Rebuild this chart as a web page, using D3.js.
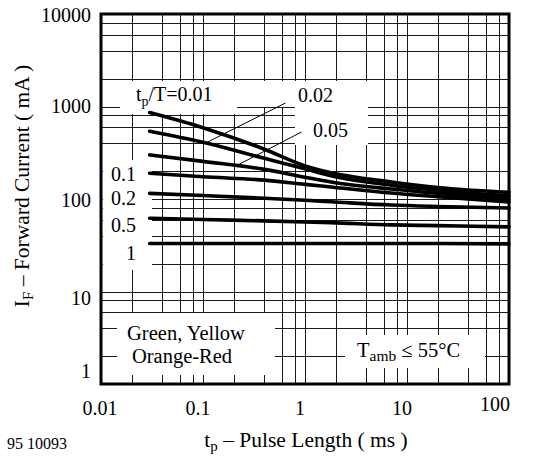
<!DOCTYPE html>
<html>
<head>
<meta charset="utf-8">
<script src="https://cdn.jsdelivr.net/npm/d3@7"></script>
<style>
  html, body { margin: 0; padding: 0; background: #fff; }
  svg { display: block; }
  text { font-family: "Liberation Serif", "Times New Roman", serif; fill: #000; }
</style>
</head>
<body>
<svg id="chart" width="536" height="458"></svg>
<script>
// ---- data ----
const pulseLengths = [0.03, 0.1, 0.4, 1, 1.8, 7, 20, 100];   // ms
const dutyLabels = ["0.01", "0.02", "0.05", "0.1", "0.2", "0.5", "1"];
const current001 = [860, 590, 345, 228, 192, 153, 133, 118];
const current002 = [540, 410, 275, 212, 178, 141, 124, 108];
const current005 = [300, 255, 209, 172, 153, 128, 115, 100];
const current01  = [190, 174, 160, 144, 135, 116, 106, 93];
const current02  = [115, 109, 102, 97, 93.5, 86, 83, 80];
const current05  = [62, 60, 58, 56.5, 55.5, 52.5, 51.5, 50];
const current1   = [33, 33, 33, 33, 33, 33, 33, 32.7];
const xTickValues = [0.01, 0.1, 1, 10, 100];
const xTickLabels = ["0.01", "0.1", "1", "10", "100"];
const yTickValues = [1, 10, 100, 1000, 10000];
const yTickLabels = ["1", "10", "100", "1000", "10000"];
const gridMultipliers = [1, 2, 4, 6, 8];

const series = [current001, current002, current005, current01, current02, current05, current1];

// ---- layout ----
const svg = d3.select("#chart");
const L = 101, R = 509, T = 14, B = 384;
const x = d3.scaleLog().domain([0.01, 100]).range([L, R]);
const y = d3.scaleLog().domain([1, 10000]).range([B, T]);

// grid
const xGrid = [];
[0.01, 0.1, 1, 10].forEach(d => gridMultipliers.forEach(m => xGrid.push(d * m)));
const yGrid = [];
[1, 10, 100, 1000].forEach(d => gridMultipliers.forEach(m => yGrid.push(d * m)));

const grid = svg.append("g").attr("stroke", "#1a1a1a").attr("stroke-width", 1).attr("shape-rendering", "crispEdges");
grid.selectAll("line.v").data(xGrid.slice(1)).join("line")
  .attr("x1", d => Math.round(x(d)) + 0.5).attr("x2", d => Math.round(x(d)) + 0.5)
  .attr("y1", T).attr("y2", B);
grid.selectAll("line.h").data(yGrid.slice(1)).join("line")
  .attr("y1", d => Math.round(y(d)) + 0.5).attr("y2", d => Math.round(y(d)) + 0.5)
  .attr("x1", L).attr("x2", R);

// white label boxes (erase grid behind annotations)
const boxes = [
  [120, 81, 117, 33],   // tp/T=0.01
  [263, 81, 105, 26],   // 0.02
  [295, 107, 73, 38],   // 0.05
  [103, 160, 49, 110],  // 0.1 .. 1
  [117, 313, 158, 62],  // Green, Yellow / Orange-Red
  [345, 335, 140, 33]   // Tamb
];
svg.append("g").selectAll("rect").data(boxes).join("rect")
  .attr("x", d => d[0]).attr("y", d => d[1]).attr("width", d => d[2]).attr("height", d => d[3])
  .attr("fill", "#fff");

// curves
const line = d3.line()
  .x((d, i) => x(pulseLengths[i]))
  .y(d => y(d))
  .curve(d3.curveMonotoneX);
svg.append("g").selectAll("path").data(series).join("path")
  .attr("d", d => line(d))
  .attr("fill", "none").attr("stroke", "#000").attr("stroke-width", 3.6)
  .attr("stroke-linecap", "round");

// leader lines (data coordinates)
const leaders = [
  [[0.644, 1091], [0.111, 413]],
  [[0.925, 530], [0.219, 233]]
];
svg.append("g").selectAll("line").data(leaders).join("line")
  .attr("x1", d => x(d[0][0])).attr("y1", d => y(d[0][1]))
  .attr("x2", d => x(d[1][0])).attr("y2", d => y(d[1][1]))
  .attr("stroke", "#000").attr("stroke-width", 1);

// border
svg.append("rect").attr("x", L).attr("y", T).attr("width", R - L).attr("height", B - T)
  .attr("fill", "none").attr("stroke", "#000").attr("stroke-width", 3);

// tick labels
const FS = 20;
const yLabelShift = [-6, 13, 8, 6, 8];
svg.append("g").selectAll("text").data(yTickValues).join("text")
  .attr("x", 91).attr("y", (d, i) => y(d) + yLabelShift[i])
  .attr("text-anchor", "end").attr("font-size", FS)
  .text((d, i) => yTickLabels[i]);

svg.append("g").selectAll("text").data(xTickValues).join("text")
  .attr("x", (d, i) => i === xTickValues.length - 1 ? x(d) + 1 : x(d) + (i === 0 ? -1 : -5))
  .attr("y", (d, i) => i === xTickValues.length - 1 ? 411 : 415)
  .attr("text-anchor", (d, i) => i === xTickValues.length - 1 ? "end" : "middle")
  .attr("font-size", FS)
  .text((d, i) => xTickLabels[i]);

// axis titles
const TFS = 21.5;
const xt = svg.append("text").attr("x", 306).attr("y", 447).attr("text-anchor", "middle").attr("font-size", TFS);
xt.append("tspan").text("t");
xt.append("tspan").attr("font-size", 15).attr("dy", 4).text("p");
xt.append("tspan").attr("dy", -4).text(" – Pulse Length ( ms )");

const yt = svg.append("text").attr("transform", "translate(29,186) rotate(-90)")
  .attr("text-anchor", "middle").attr("font-size", TFS);
yt.append("tspan").text("I");
yt.append("tspan").attr("font-size", 15).attr("dy", 4).text("F");
yt.append("tspan").attr("dy", -4).text(" – Forward Current ( mA )");

svg.append("text").attr("x", 7).attr("y", 449).attr("font-size", 16).text("95 10093");

// curve labels
const t1 = svg.append("text").attr("x", 136).attr("y", 101).attr("font-size", FS);
t1.append("tspan").text("t");
t1.append("tspan").attr("font-size", 14).attr("dy", 5).text("p");
t1.append("tspan").attr("dy", -5).text("/T=" + dutyLabels[0]);

svg.append("text").attr("x", 298).attr("y", 102).attr("font-size", FS).text(dutyLabels[1]);
svg.append("text").attr("x", 313).attr("y", 137).attr("font-size", FS).text(dutyLabels[2]);
const leftBaselines = [181, 205, 232, 260];
svg.append("g").selectAll("text").data(dutyLabels.slice(3)).join("text")
  .attr("x", 136).attr("y", (d, i) => leftBaselines[i])
  .attr("text-anchor", "end").attr("font-size", FS).text(d => d);

svg.append("text").attr("x", 186).attr("y", 340).attr("text-anchor", "middle").attr("font-size", 20.5).text("Green, Yellow");
svg.append("text").attr("x", 182).attr("y", 363).attr("text-anchor", "middle").attr("font-size", 20.5).text("Orange-Red");

const ta = svg.append("text").attr("x", 357).attr("y", 357).attr("font-size", 20.5);
ta.append("tspan").text("T");
ta.append("tspan").attr("font-size", 15.5).attr("dy", 4).text("amb");
ta.append("tspan").attr("dy", -4).text(" ≤ 55°C");
</script>
</body>
</html>
